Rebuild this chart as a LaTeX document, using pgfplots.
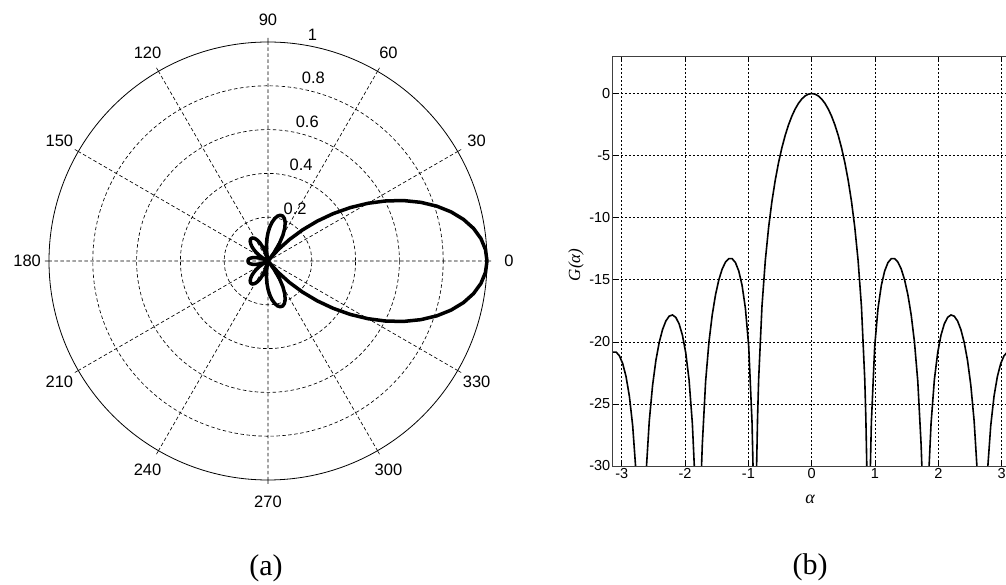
\documentclass[border=0pt]{standalone}
\usepackage{fontspec}
\setmainfont{Liberation Sans}
\newfontfamily\serif{Liberation Serif}
\usepackage{pgfplots}
\pgfplotsset{compat=1.18}
\usepgfplotslibrary{polar}
\usepackage{pgfplotstable}

\pgfplotstableread{
t r
-180 0.09095
-177 0.09094
-174 0.08783
-171 0.08163
-168 0.07241
-165 0.06040
-162 0.04588
-159 0.02924
-156 0.01097
-154.29 0
-153 0.00840
-150 0.02825
-147 0.04794
-144 0.06682
-141 0.08422
-138 0.09949
-135 0.11203
-132 0.12131
-129 0.12686
-126 0.12832
-123 0.12546
-120 0.11814
-117 0.10639
-114 0.09037
-111 0.07037
-108 0.04684
-105 0.02035
-102.86 0
-102 0.00840
-99 0.03860
-96 0.06936
-93 0.09970
-90 0.12862
-87 0.15507
-84 0.17804
-81 0.19652
-78 0.20959
-75 0.21640
-72 0.21624
-69 0.20850
-66 0.19276
-63 0.16876
-60 0.13642
-57 0.09587
-54 0.04742
-51.43 0
-51 0.00840
-48 0.07091
-45 0.13921
-42 0.21228
-39 0.28894
-36 0.36788
-33 0.44774
-30 0.52708
-27 0.60444
-24 0.67835
-21 0.74744
-18 0.81033
-15 0.86582
-12 0.91282
-9 0.95038
-6 0.97776
-3 0.99441
0 1.00000
3 0.99441
6 0.97776
9 0.95038
12 0.91282
15 0.86582
18 0.81033
21 0.74744
24 0.67835
27 0.60444
30 0.52708
33 0.44774
36 0.36788
39 0.28894
42 0.21228
45 0.13921
48 0.07091
51 0.00840
51.43 0
54 0.04742
57 0.09587
60 0.13642
63 0.16876
66 0.19276
69 0.20850
72 0.21624
75 0.21640
78 0.20959
81 0.19652
84 0.17804
87 0.15507
90 0.12862
93 0.09970
96 0.06936
99 0.03860
102 0.00840
102.86 0
105 0.02035
108 0.04684
111 0.07037
114 0.09037
117 0.10639
120 0.11814
123 0.12546
126 0.12832
129 0.12686
132 0.12131
135 0.11203
138 0.09949
141 0.08422
144 0.06682
147 0.04794
150 0.02825
153 0.00840
154.29 0
156 0.01097
159 0.02924
162 0.04588
165 0.06040
168 0.07241
171 0.08163
174 0.08783
177 0.09094
180 0.09095
}\polardata

\pgfplotstableread{
a g
-3.14159 -20.824
-3.08923 -20.825
-3.03687 -21.127
-2.98451 -21.763
-2.93215 -22.803
-2.87979 -24.380
-2.82743 -26.768
-2.78223 -30
-2.69279 -60
-2.60910 -30
-2.56563 -26.385
-2.51327 -23.501
-2.46091 -21.492
-2.40855 -20.045
-2.35619 -19.013
-2.30383 -18.322
-2.25147 -17.934
-2.19911 -17.834
-2.14675 -18.030
-2.09440 -18.552
-2.04204 -19.462
-1.98968 -20.879
-1.93732 -23.052
-1.88496 -26.587
-1.85425 -30
-1.79520 -60
-1.73983 -30
-1.72788 -28.268
-1.67552 -23.178
-1.62316 -20.026
-1.57080 -17.814
-1.51844 -16.189
-1.46608 -14.990
-1.41372 -14.132
-1.36136 -13.573
-1.30900 -13.295
-1.25664 -13.301
-1.20428 -13.618
-1.15192 -14.300
-1.09956 -15.455
-1.04720 -17.302
-0.99484 -20.367
-0.94248 -26.480
-0.92696 -30
-0.89760 -60
-0.87004 -30
-0.855 -26.084
-0.83776 -22.986
-0.78540 -17.127
-0.73304 -13.462
-0.68068 -10.784
-0.62832 -8.686
-0.57596 -6.980
-0.52360 -5.562
-0.47124 -4.373
-0.41888 -3.371
-0.36652 -2.529
-0.31416 -1.827
-0.26180 -1.251
-0.20944 -0.792
-0.15708 -0.442
-0.10472 -0.195
-0.05236 -0.049
0 0
0.05236 -0.049
0.10472 -0.195
0.15708 -0.442
0.20944 -0.792
0.26180 -1.251
0.31416 -1.827
0.36652 -2.529
0.41888 -3.371
0.47124 -4.373
0.52360 -5.562
0.57596 -6.980
0.62832 -8.686
0.68068 -10.784
0.73304 -13.462
0.78540 -17.127
0.83776 -22.986
0.855 -26.084
0.87004 -30
0.89760 -60
0.92696 -30
0.94248 -26.480
0.99484 -20.367
1.04720 -17.302
1.09956 -15.455
1.15192 -14.300
1.20428 -13.618
1.25664 -13.301
1.30900 -13.295
1.36136 -13.573
1.41372 -14.132
1.46608 -14.990
1.51844 -16.189
1.57080 -17.814
1.62316 -20.026
1.67552 -23.178
1.72788 -28.268
1.73983 -30
1.79520 -60
1.85425 -30
1.88496 -26.587
1.93732 -23.052
1.98968 -20.879
2.04204 -19.462
2.09440 -18.552
2.14675 -18.030
2.19911 -17.834
2.25147 -17.934
2.30383 -18.322
2.35619 -19.013
2.40855 -20.045
2.46091 -21.492
2.51327 -23.501
2.56563 -26.385
2.60910 -30
2.69279 -60
2.78223 -30
2.82743 -26.768
2.87979 -24.380
2.93215 -22.803
2.98451 -21.763
3.03687 -21.127
3.08923 -20.825
3.14159 -20.824
}\gaindata

\begin{document}
\begin{tikzpicture}[x=1pt,y=1pt]
\useasboundingbox (0,0) rectangle (1006,585);
\begin{polaraxis}[
  at={(268pt,324pt)}, anchor=center,
  scale only axis, width=438pt, height=438pt,
  ymin=0, ymax=1,
  xtick={0,30,...,330}, ytick={0.2,0.4,0.6,0.8},
  xticklabel={\mbox{}}, yticklabel={\mbox{}},
  grid=major,
  major grid style={black, line width=0.65pt, dash pattern=on 3.5pt off 2.5pt},
  x axis line style={black, line width=0.8pt},
  y axis line style={draw=none},
  xtick style={black, line width=0.6pt},
  ytick style={draw=none},
  major tick length=4pt,
  clip=false,
]
\addplot[black, line width=3.5pt, line join=round] table[x=t, y=r] {\polardata};
\begin{scope}[font=\fontsize{16.5}{18}\selectfont]
\node at (axis cs:0,1.1) {0};
\node at (axis cs:30,1.1) {30};
\node at (axis cs:60,1.1) {60};
\node at (axis cs:90,1.1) {90};
\node at (axis cs:120,1.1) {120};
\node at (axis cs:150,1.1) {150};
\node at (axis cs:180,1.1) {180};
\node at (axis cs:210,1.1) {210};
\node at (axis cs:240,1.1) {240};
\node at (axis cs:270,1.1) {270};
\node at (axis cs:300,1.1) {300};
\node at (axis cs:330,1.1) {330};
\node[anchor=south west, inner sep=0pt, xshift=9pt, yshift=1pt] at (axis cs:82,0.21) {0.2};
\node[anchor=south west, inner sep=0pt, xshift=9pt, yshift=1pt] at (axis cs:82,0.41) {0.4};
\node[anchor=south west, inner sep=0pt, xshift=9pt, yshift=1pt] at (axis cs:82,0.61) {0.6};
\node[anchor=south west, inner sep=0pt, xshift=9pt, yshift=1pt] at (axis cs:82,0.81) {0.8};
\node[anchor=south west, inner sep=0pt, xshift=9pt, yshift=1pt] at (axis cs:82,1.01) {1};
\end{scope}
\end{polaraxis}

\begin{axis}[
  at={(612.8pt,119pt)}, anchor=south west,
  scale only axis, width=397.8pt, height=409.7pt,
  xmin=-3.14159, xmax=3.14159, ymin=-30, ymax=3,
  xtick={-3,-2,-1,0,1,2,3}, ytick={-30,-25,-20,-15,-10,-5,0},
  /pgf/number format/assume math mode=true,
  tick label style={font=\fontsize{14.5}{16}\selectfont},
  grid=major,
  major grid style={black, line width=0.65pt, dash pattern=on 2pt off 2pt},
  axis line style={black!75, line width=0.8pt},
  tick style={black, line width=0.6pt},
  tick align=inside, major tick length=4pt,
  xticklabel style={yshift=1pt},
  yticklabel style={xshift=1pt},
]
\addplot[black, line width=1.6pt] table[x=a, y=g] {\gaindata};
\end{axis}

\node[rotate=90, font=\serif\itshape\fontsize{17}{18}\selectfont] at (576,320) {G(α)};
\node[font=\serif\itshape\fontsize{18}{18}\selectfont] at (810,86) {α};
\node[font=\serif\fontsize{30}{32}\selectfont] at (266,17) {(a)};
\node[font=\serif\fontsize{30}{32}\selectfont] at (810,18) {(b)};
\end{tikzpicture}
\end{document}
